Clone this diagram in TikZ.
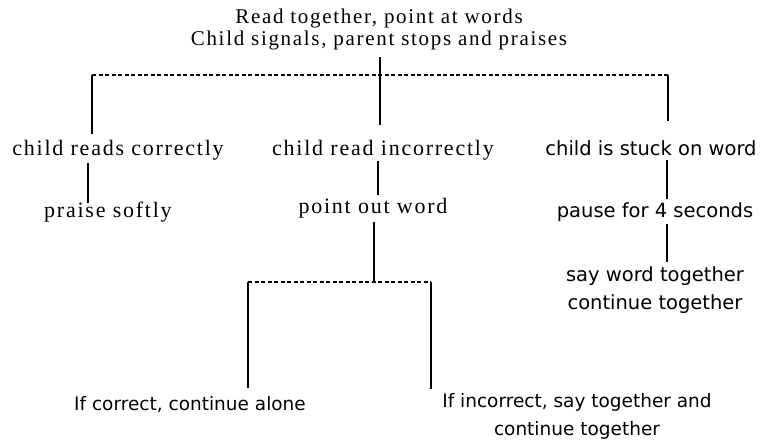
\documentclass[tikz,border=0pt]{standalone}
\usepackage{fontspec}
\setmainfont{Liberation Serif}[LetterSpace=8]
\newfontfamily\sansf{DejaVu Sans}
\begin{document}
\begin{tikzpicture}[x=1pt,y=-1pt,
  serift/.style={inner sep=0pt,font=\fontsize{22}{24}\selectfont,align=center},
  titlet/.style={inner sep=0pt,font=\fontsize{21}{22}\selectfont,align=center},
  sanst/.style={inner sep=0pt,font=\sansf\fontsize{18.5}{28}\selectfont,align=center},
  sansr/.style={inner sep=0pt,font=\sansf\fontsize{19.5}{28}\selectfont,align=center},
  conn/.style={line width=1.2pt},
  dconn/.style={line width=1.1pt,dash pattern=on 4pt off 2.5pt}]
\useasboundingbox (0,0) rectangle (765,441);
% texts
\node[titlet] (title) at (379,29) {Read together, point at words\\Child signals, parent stops and praises};
\node[serift] (c1) at (118,150) {child reads correctly};
\node[serift] (c2) at (383,150) {child read incorrectly};
\node[sansr] (c3) at (651,148) {child is stuck on word};
\node[serift] (p1) at (108,212) {praise softly};
\node[serift] (p2) at (373,208) {point out word};
\node[sansr] (p3) at (655,212) {pause for 4 seconds};
\node[sansr] (s3) at (655,290) {say word together\\continue together};
\node[sanst] (b1) at (190,405) {If correct, continue alone};
\node[sanst] (b2) at (577,416) {If incorrect, say together and\\continue together};
% junctions
\coordinate (jt) at (380,75);
\coordinate (jl) at (92,75);
\coordinate (jr) at (668,75);
\coordinate (jm) at (374,282);
\coordinate (jml) at (248,282);
\coordinate (jmr) at (431,282);
\coordinate (x1) at (88,0);
\coordinate (x2) at (378,0);
\coordinate (x3) at (667,0);
\coordinate (x4) at (374,0);
% connectors
\draw[conn] (jt |- 0,57) -- (jt);
\draw[dconn] (jl) -- (jr);
\draw[conn] (jl) -- (jl |- 0,134);
\draw[conn] (jt) -- (jt |- 0,125);
\draw[conn] (jr) -- (jr |- 0,121);
\draw[conn] (x1 |- 0,163) -- (x1 |- 0,203);
\draw[conn] (x2 |- 0,161) -- (x2 |- 0,195);
\draw[conn] (x3 |- 0,160) -- (x3 |- 0,199);
\draw[conn] (x4 |- 0,222) -- (jm);
\draw[conn] (x3 |- 0,224) -- (x3 |- 0,262);
\draw[dconn] (jml) -- (jmr);
\draw[conn] (jml) -- (jml |- 0,388);
\draw[conn] (jmr) -- (jmr |- 0,389);
\end{tikzpicture}
\end{document}
